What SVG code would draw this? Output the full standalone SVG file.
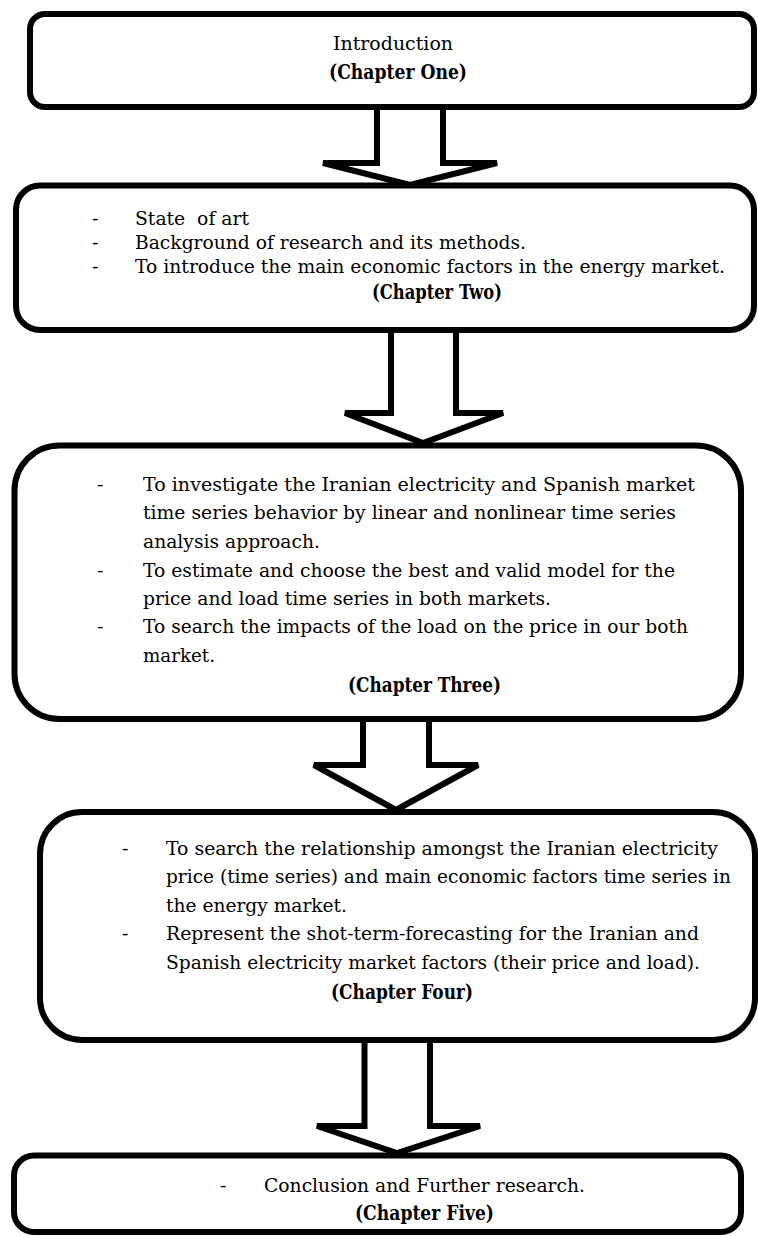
<svg xmlns="http://www.w3.org/2000/svg" width="758" height="1236" viewBox="0 0 758 1236">
<style>
.box{fill:#fff;stroke:#000;stroke-width:6}
.arr{fill:#fff;stroke:#000;stroke-width:6;stroke-linejoin:miter;stroke-miterlimit:4}
text{font-family:"DejaVu Serif","Liberation Serif",serif;font-size:19px;fill:#000}
.b{font-weight:bold;font-size:19.5px}
</style>
<rect width="758" height="1236" fill="#fff"/>
<g id="connectors">
<path class="arr" d="M377,107 V163 H323 L410,185 L497,163 H443 V107"/>
<path class="arr" d="M391,330 V413 H345 L423,443 L503,413 H456 V330"/>
<path class="arr" d="M363,719 V765 H314 L396,810 L478,765 H429 V719"/>
<path class="arr" d="M364.5,1040 V1126 H317 L397,1153 L480,1126 H430 V1040"/>
</g>
<g id="ch1">
<rect class="box" x="30" y="14" width="724" height="93" rx="15"/>
<text x="333" y="50" textLength="120" lengthAdjust="spacingAndGlyphs">Introduction</text>
<text class="b" x="329" y="79" textLength="138" lengthAdjust="spacingAndGlyphs">(Chapter One)</text>
</g>
<g id="ch2">
<rect class="box" x="16" y="185.5" width="738" height="144.5" rx="24"/>
<text x="92" y="225">-</text>
<text x="92" y="249">-</text>
<text x="92" y="273">-</text>
<text x="135" y="225" textLength="114" lengthAdjust="spacingAndGlyphs" xml:space="preserve">State  of art</text>
<text x="135" y="249" textLength="391" lengthAdjust="spacingAndGlyphs">Background of research and its methods.</text>
<text x="135" y="273" textLength="590" lengthAdjust="spacingAndGlyphs">To introduce the main economic factors in the energy market.</text>
<text class="b" x="372" y="299" textLength="130" lengthAdjust="spacingAndGlyphs">(Chapter Two)</text>
</g>
<g id="ch3">
<rect class="box" x="14.5" y="445.5" width="726.5" height="273.5" rx="45"/>
<text x="97" y="491">-</text>
<text x="97" y="577">-</text>
<text x="97" y="633">-</text>
<text x="143" y="491" textLength="552" lengthAdjust="spacingAndGlyphs">To investigate the Iranian electricity and Spanish market</text>
<text x="143" y="519" textLength="533" lengthAdjust="spacingAndGlyphs">time series behavior by linear and nonlinear time series</text>
<text x="143" y="548" textLength="177" lengthAdjust="spacingAndGlyphs">analysis approach.</text>
<text x="143" y="577" textLength="532" lengthAdjust="spacingAndGlyphs">To estimate and choose the best and valid model for the</text>
<text x="143" y="605" textLength="408" lengthAdjust="spacingAndGlyphs">price and load time series in both markets.</text>
<text x="143" y="633" textLength="545" lengthAdjust="spacingAndGlyphs">To search the impacts of the load on the price in our both</text>
<text x="143" y="662" textLength="72" lengthAdjust="spacingAndGlyphs">market.</text>
<text class="b" x="348" y="692" textLength="153" lengthAdjust="spacingAndGlyphs">(Chapter Three)</text>
</g>
<g id="ch4">
<rect class="box" x="40" y="812" width="715" height="228" rx="42"/>
<text x="122" y="855">-</text>
<text x="122" y="940">-</text>
<text x="166" y="855" textLength="552" lengthAdjust="spacingAndGlyphs">To search the relationship amongst the Iranian electricity</text>
<text x="166" y="883" textLength="565" lengthAdjust="spacingAndGlyphs">price (time series) and main economic factors time series in</text>
<text x="166" y="912" textLength="181" lengthAdjust="spacingAndGlyphs">the energy market.</text>
<text x="166" y="940" textLength="533" lengthAdjust="spacingAndGlyphs">Represent the shot-term-forecasting for the Iranian and</text>
<text x="166" y="969" textLength="534" lengthAdjust="spacingAndGlyphs">Spanish electricity market factors (their price and load).</text>
<text class="b" x="331" y="999" textLength="142" lengthAdjust="spacingAndGlyphs">(Chapter Four)</text>
</g>
<g id="ch5">
<rect class="box" x="14" y="1155.5" width="727" height="76.5" rx="20"/>
<text x="220" y="1192">-</text>
<text x="264" y="1192" textLength="321" lengthAdjust="spacingAndGlyphs">Conclusion and Further research.</text>
<text class="b" x="355" y="1220" textLength="139" lengthAdjust="spacingAndGlyphs">(Chapter Five)</text>
</g>
</svg>
